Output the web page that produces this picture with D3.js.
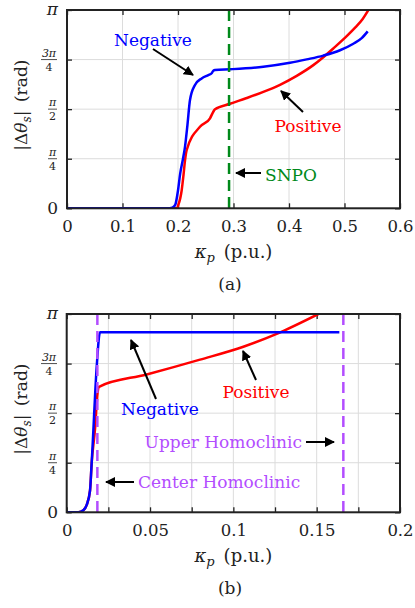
<!DOCTYPE html>
<html>
<head>
<meta charset="utf-8">
<script src="https://cdn.jsdelivr.net/npm/d3@7"></script>
<style>
  body { margin: 0; background: #fff; }
  svg text { font-family: "DejaVu Serif", serif; }
</style>
</head>
<body>
<script>
// values in units of pi
const negA_k = [0, 0.185, 0.19, 0.195, 0.2, 0.204, 0.209, 0.2126, 0.217, 0.2216, 0.2306, 0.2426, 0.2546, 0.2607, 0.2636, 0.2667, 0.2937, 0.3537, 0.4018, 0.4319, 0.4618, 0.4919, 0.5159, 0.531, 0.5418];
const negA_v = [0, 0, 0.003, 0.017, 0.09, 0.176, 0.25, 0.31, 0.42, 0.546, 0.622, 0.655, 0.672, 0.681, 0.694, 0.697, 0.701, 0.714, 0.734, 0.751, 0.77, 0.797, 0.83, 0.858, 0.892];
const posA_k = [0, 0.198, 0.2006, 0.204, 0.2066, 0.21, 0.2126, 0.2157, 0.2396, 0.2577, 0.2636, 0.2667, 0.2937, 0.3238, 0.3537, 0.3838, 0.4139, 0.4438, 0.4618, 0.4798, 0.504, 0.5195, 0.5328, 0.541, 0.545];
const posA_v = [0, 0, 0.017, 0.05, 0.09, 0.17, 0.24, 0.294, 0.411, 0.454, 0.487, 0.499, 0.527, 0.556, 0.587, 0.623, 0.668, 0.722, 0.762, 0.806, 0.868, 0.912, 0.955, 0.99, 1.01];
const snpoK = 0.292;

const negB_k = [0, 0.007, 0.01, 0.012, 0.014, 0.0148, 0.0155, 0.018, 0.02, 0.1636];
const negB_v = [0, 0, 0.01, 0.037, 0.11, 0.22, 0.33, 0.734, 0.908, 0.908];
const posB_k = [0, 0.007, 0.01, 0.012, 0.014, 0.015, 0.017, 0.0185, 0.0194, 0.048, 0.08, 0.106, 0.126, 0.151];
const posB_v = [0, 0, 0.01, 0.037, 0.11, 0.25, 0.42, 0.6, 0.633, 0.695, 0.77, 0.835, 0.9, 1.0];
const centerHomK = 0.0184;
const upperHomK = 0.166;

const yTicks = [0, 0.25, 0.5, 0.75, 1];
const yLabels = [["0"], ["π", "4"], ["π", "2"], ["3π", "4"], ["π"]];
const xTicksA = [0, 0.1, 0.2, 0.3, 0.4, 0.5, 0.6];
const xTicksB = [0, 0.025, 0.05, 0.075, 0.1, 0.125, 0.15, 0.175, 0.2];
const xLabelsB = [0, 0.05, 0.1, 0.15, 0.2];

const W = 415, H = 608;
const blue = "#0000ff", red = "#ff0000", green = "#00891a", purple = "#b34dff";

const svg = d3.create("svg").attr("width", W).attr("height", H).style("background", "#fff");
const defs = svg.append("defs");
defs.append("marker").attr("id", "arr").attr("viewBox", "0 0 10 10")
  .attr("refX", 9).attr("refY", 5).attr("markerWidth", 5).attr("markerHeight", 5)
  .attr("orient", "auto").attr("markerUnits", "strokeWidth")
  .append("path").attr("d", "M0,0L10,5L0,10Z").attr("fill", "#000");

function panel(id, box, xDomain, xTicks, xLabelSet, series, vlines, notes, tag) {
  const x = d3.scaleLinear(xDomain, [box.l, box.r]);
  const y = d3.scaleLinear([0, 1], [box.b, box.t]);
  const g = svg.append("g");

  defs.append("clipPath").attr("id", "clip" + id)
    .append("rect").attr("x", box.l).attr("y", box.t).attr("width", box.r - box.l).attr("height", box.b - box.t);

  // grid
  g.append("g").selectAll("line").data(xTicks).join("line")
    .attr("x1", d => x(d)).attr("x2", d => x(d)).attr("y1", box.t).attr("y2", box.b)
    .attr("stroke", "#dcdcdc").attr("stroke-width", 1);
  g.append("g").selectAll("line").data(yTicks).join("line")
    .attr("y1", d => y(d)).attr("y2", d => y(d)).attr("x1", box.l).attr("x2", box.r)
    .attr("stroke", "#dcdcdc").attr("stroke-width", 1);

  // axes (inward ticks)
  const fmt = d => xLabelSet.includes(d) ? String(d) : "";
  const axB = g.append("g").attr("transform", `translate(0,${box.b})`)
    .call(d3.axisBottom(x).tickValues(xTicks).tickFormat(fmt).tickSizeInner(-5).tickSizeOuter(0).tickPadding(12));
  const axT = g.append("g").attr("transform", `translate(0,${box.t})`)
    .call(d3.axisTop(x).tickValues(xTicks).tickFormat("").tickSizeInner(-5).tickSizeOuter(0));
  const axL = g.append("g").attr("transform", `translate(${box.l},0)`)
    .call(d3.axisLeft(y).tickValues(yTicks).tickFormat("").tickSizeInner(-5).tickSizeOuter(0));
  const axR = g.append("g").attr("transform", `translate(${box.r},0)`)
    .call(d3.axisRight(y).tickValues(yTicks).tickFormat("").tickSizeInner(-5).tickSizeOuter(0));
  [axB, axT, axL, axR].forEach(a => {
    a.attr("font-family", null);
    a.select(".domain").remove();
    a.selectAll("line").attr("stroke", "#222").attr("stroke-width", 1.3);
  });
  axB.selectAll("text").attr("font-size", 16.5).attr("fill", "#222");

  // y tick labels (fractions)
  yTicks.forEach((v, i) => {
    const lab = yLabels[i], yy = y(v);
    if (lab.length === 1) {
      const isPi = lab[0] === "π";
      g.append("text").attr("x", 58).attr("y", yy + (isPi ? 5 : 6)).attr("text-anchor", "end")
        .attr("font-size", 17).attr("fill", "#222").attr("font-style", isPi ? "italic" : null).text(lab[0]);
    } else {
      const w = lab[0].length > 1 ? 16 : 9, xc = 57 - w / 2;
      g.append("text").attr("x", xc).attr("y", yy - 3).attr("text-anchor", "middle")
        .attr("font-size", 11).attr("font-style", "italic").attr("fill", "#222").text(lab[0]);
      g.append("line").attr("x1", xc - w / 2).attr("x2", xc + w / 2).attr("y1", yy).attr("y2", yy)
        .attr("stroke", "#222").attr("stroke-width", 0.8);
      g.append("text").attr("x", xc).attr("y", yy + 11).attr("text-anchor", "middle")
        .attr("font-size", 11).attr("fill", "#222").text(lab[1]);
    }
  });

  // curves
  const line = d3.line().x(d => x(d[0])).y(d => y(d[1])).curve(d3.curveMonotoneX);
  const cg = g.append("g").attr("clip-path", `url(#clip${id})`);
  series.forEach(s => {
    cg.append("path").datum(d3.zip(s.k, s.v)).attr("d", line)
      .attr("fill", "none").attr("stroke", s.color).attr("stroke-width", 2.5).attr("stroke-linejoin", "round");
  });
  vlines.forEach(v => {
    cg.append("line").attr("x1", x(v.k)).attr("x2", x(v.k)).attr("y1", box.t).attr("y2", box.b)
      .attr("stroke", v.color).attr("stroke-width", 2.5).attr("stroke-dasharray", "11,6");
  });

  // frame
  g.append("rect").attr("x", box.l).attr("y", box.t).attr("width", box.r - box.l).attr("height", box.b - box.t)
    .attr("fill", "none").attr("stroke", "#222").attr("stroke-width", 2);

  // annotations
  notes.forEach(n => {
    g.append("text").attr("x", n.tx).attr("y", n.ty).attr("dy", "0.36em").attr("text-anchor", n.anchor || "middle")
      .attr("font-size", 17).attr("fill", n.color).text(n.text);
    g.append("line").attr("x1", n.a[0]).attr("y1", n.a[1]).attr("x2", n.a[2]).attr("y2", n.a[3])
      .attr("stroke", "#000").attr("stroke-width", 2).attr("marker-end", "url(#arr)");
  });

  // axis titles
  const cy = (box.t + box.b) / 2 - 4;
  const yl = g.append("text").attr("transform", `translate(27,${cy}) rotate(-90)`)
    .attr("text-anchor", "middle").attr("font-size", 17).attr("fill", "#222");
  yl.append("tspan").text("|Δ");
  yl.append("tspan").attr("font-style", "italic").text("θ");
  yl.append("tspan").attr("font-size", 12).attr("font-style", "italic").attr("dy", 4).text("s");
  yl.append("tspan").attr("dy", -4).text("|\u2002(rad)");

  const xl = g.append("text").attr("x", (box.l + box.r) / 2).attr("y", box.b + 50)
    .attr("text-anchor", "middle").attr("font-size", 18).attr("fill", "#222");
  xl.append("tspan").attr("font-style", "italic").text("κ");
  xl.append("tspan").attr("font-size", 13).attr("font-style", "italic").attr("dy", 4).text("p");
  xl.append("tspan").attr("dy", -4).text("\u2002(p.u.)");

  g.append("text").attr("x", 230).attr("y", box.b + 82).attr("text-anchor", "middle")
    .attr("font-size", 17).attr("fill", "#222").text(tag);
}

panel("a", { l: 67, r: 400, t: 10, b: 208.3 }, [0, 0.6], xTicksA, xTicksA,
  [{ k: posA_k, v: posA_v, color: red }, { k: negA_k, v: negA_v, color: blue }],
  [{ k: snpoK, color: green }],
  [
    { text: "Negative", color: blue, tx: 153, ty: 40, a: [153, 49, 193, 75] },
    { text: "Positive", color: red, tx: 308, ty: 126, a: [303, 112, 281, 91] },
    { text: "SNPO", color: green, tx: 265, ty: 175, anchor: "start", a: [261, 173, 236, 173] }
  ], "(a)");

panel("b", { l: 66.7, r: 400, t: 314, b: 512.3 }, [0, 0.2], xTicksB, xLabelsB,
  [{ k: posB_k, v: posB_v, color: red }, { k: negB_k, v: negB_v, color: blue }],
  [{ k: centerHomK, color: purple }, { k: upperHomK, color: purple }],
  [
    { text: "Negative", color: blue, tx: 160, ty: 409, a: [156, 399, 131, 340] },
    { text: "Positive", color: red, tx: 256, ty: 392, a: [256, 380, 243, 351] },
    { text: "Upper Homoclinic", color: purple, tx: 302, ty: 442, anchor: "end", a: [306, 442, 334, 442] },
    { text: "Center Homoclinic", color: purple, tx: 138, ty: 482, anchor: "start", a: [134, 482, 106, 482] }
  ], "(b)");

document.body.appendChild(svg.node());
</script>
</body>
</html>
